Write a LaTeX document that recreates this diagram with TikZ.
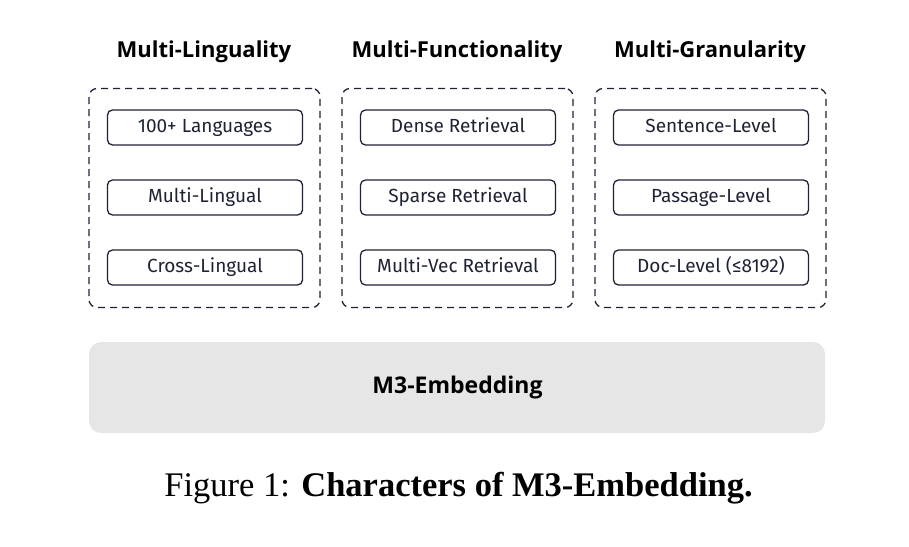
\documentclass[tikz,border=0pt]{standalone}
\usepackage{fontspec}
\setmainfont{Liberation Serif}
\newfontfamily\titlefont{Open Sans}[BoldFont={* Bold}]
\newfontfamily\itemfont{Fira Sans}
\usetikzlibrary{positioning}
\definecolor{ink}{HTML}{1E2235}
\definecolor{panel}{HTML}{E6E6E6}
\tikzset{
  grp/.style={draw=ink, line width=1.3pt, dash pattern=on 7pt off 5pt, rounded corners=8pt, minimum width=231pt, minimum height=219pt, inner sep=0pt},
  item/.style={draw=ink, line width=1.3pt, rounded corners=5pt, minimum width=195pt, minimum height=35pt, inner sep=0pt},
  itemtext/.style={anchor=base, inner sep=0pt, font=\itemfont\fontsize{19}{22}\selectfont, text=ink},
  ttl/.style={anchor=base, inner sep=0pt, font=\titlefont\bfseries\fontsize{22}{26}\selectfont},
  base/.style={fill=panel, rounded corners=12pt, minimum width=736pt, minimum height=91pt, inner sep=0pt},
}
\begin{document}
\begin{tikzpicture}[x=1pt,y=-1pt]
\useasboundingbox (0,0) rectangle (909,546);
% titles
\node[ttl] (t1) at (204,57) {Multi-Linguality};
\node[ttl] (t2) at (457,57) {Multi-Functionality};
\node[ttl] (t3) at (710,57) {Multi-Granularity};
% groups
\node[grp] (g1) at (204.5,198) {};
\node[grp] (g2) at (457.5,198) {};
\node[grp] (g3) at (710.5,198) {};
% items
\foreach \nm/\x/\y/\txt in {a1/205/127.5/{100+ Languages}, a2/205/197.5/{Multi-Lingual}, a3/205/267.5/{Cross-Lingual},
  b1/458/127.5/{Dense Retrieval}, b2/458/197.5/{Sparse Retrieval}, b3/458/267.5/{Multi-Vec Retrieval},
  c1/711/127.5/{Sentence-Level}, c2/711/197.5/{Passage-Level}, c3/711/267.5/{Doc-Level (≤8192)}}{
  \node[item] (\nm) at (\x,\y) {};
  \node[itemtext] (\nm-t) at ([yshift=-4.5pt]\nm.center) {\txt};
}
% base
\node[base] (m3) at (457,387.5) {};
\node[ttl, font=\titlefont\bfseries\fontsize{23}{27}\selectfont] (m3-t) at (457.5,393) {M3-Embedding};
% caption
\node[anchor=base, inner sep=0pt, font=\fontsize{34.5}{40}\selectfont] (cap) at (458.5,496) {Figure 1: \textbf{Characters of M3-Embedding.}};
\end{tikzpicture}
\end{document}
